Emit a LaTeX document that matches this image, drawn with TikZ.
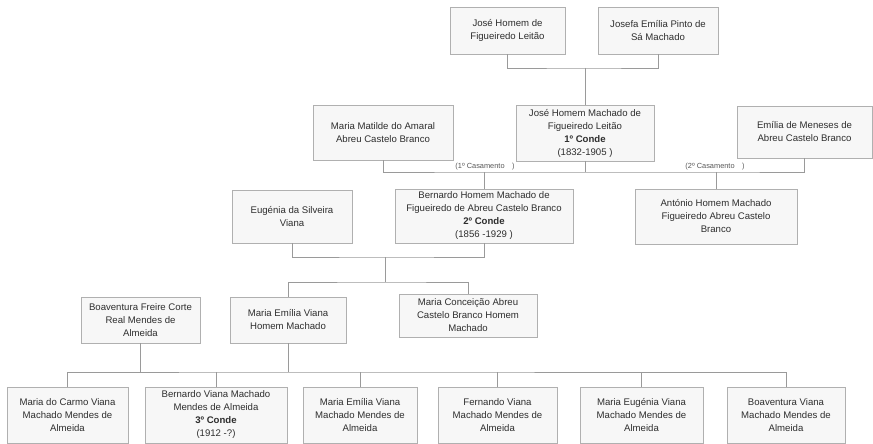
\documentclass[tikz,border=0pt]{standalone}
\usepackage{fontspec}
\setmainfont{Liberation Sans}
\definecolor{txt}{HTML}{2E2E2E}
\definecolor{edge}{HTML}{B0B0B0}
\definecolor{boxfill}{HTML}{F7F7F7}
\definecolor{conn}{HTML}{9A9A9A}
\begin{document}
\begin{tikzpicture}[x=1pt,y=-1pt,
  person/.style={draw=edge,fill=boxfill,line width=0.8pt,inner sep=1pt,align=center,
    text=txt,font=\fontsize{9.6}{13}\selectfont},
  pbox/.style 2 args={person,minimum width=#1pt,minimum height=#2pt},
  link/.style={draw=conn,line width=0.7pt},
  marr/.style={text=txt!80,font=\fontsize{7.4}{8}\selectfont,inner sep=0pt}]
\useasboundingbox[fill=white] (0,0) rectangle (873,444);

% generation 1
\node[pbox={115}{47}] (jose) at (507.5,30.5) {José Homem de\\Figueiredo Leitão};
\node[pbox={120}{47}] (josefa) at (658,30.5) {Josefa Emília Pinto de\\Sá Machado};

% generation 2
\node[pbox={138}{56}] (conde1) at (585,133) {José Homem Machado de\\Figueiredo Leitão\\\textbf{1º Conde}\\(1832-1905 )};
\node[pbox={140}{55}] (matilde) at (383,132.5) {Maria Matilde do Amaral\\Abreu Castelo Branco};
\node[pbox={135}{52}] (emilia) at (804.5,132) {Emília de Meneses de\\Abreu Castelo Branco};

% generation 3
\node[pbox={120}{53}] (eugenia) at (292,216.5) {Eugénia da Silveira\\Viana};
\node[pbox={178}{54}] (bernardo) at (484,216) {Bernardo Homem Machado de\\Figueiredo de Abreu Castelo Branco\\\textbf{2º Conde}\\(1856 -1929 )};
\node[pbox={162}{55}] (antonio) at (716,216.5) {António Homem Machado\\Figueiredo Abreu Castelo\\Branco};

% generation 4
\node[pbox={119}{46}] (boav) at (140.5,320) {Boaventura Freire Corte\\Real Mendes de\\Almeida};
\node[pbox={116}{46}] (memilia) at (288,320) {Maria Emília Viana\\Homem Machado};
\node[pbox={138}{43}] (conceicao) at (468,315.5) {Maria Conceição Abreu\\Castelo Branco Homem\\Machado};

% generation 5
\node[pbox={121}{56}] (c1) at (67.5,415) {Maria do Carmo Viana\\Machado Mendes de\\Almeida};
\node[pbox={142}{56}] (c2) at (216,415) {Bernardo Viana Machado\\Mendes de Almeida\\\textbf{3º Conde}\\(1912 -?)};
\node[pbox={114}{56}] (c3) at (360,415) {Maria Emília Viana\\Machado Mendes de\\Almeida};
\node[pbox={119}{56}] (c4) at (497.5,415) {Fernando Viana\\Machado Mendes de\\Almeida};
\node[pbox={123}{56}] (c5) at (641.5,415) {Maria Eugénia Viana\\Machado Mendes de\\Almeida};
\node[pbox={118}{56}] (c6) at (786,415) {Boaventura Viana\\Machado Mendes de\\Almeida};

% connector junctions
\coordinate (j1) at (585,68);
\coordinate (j2a) at (484,172);
\coordinate (j2b) at (716,172);
\coordinate (j3) at (385,257);
\coordinate (j3b) at (385,282);
\coordinate (j4) at (288,372);

% connectors
\draw[link] (jose.south) |- (j1) -| (josefa.south);
\draw[link] (j1) -- (conde1.north);
\draw[link] (matilde.south) |- (j2a) -- (j2b) -| (emilia.south);
\draw[link] (conde1.south) -- (conde1.south |- j2a);
\draw[link] (j2a) -- (bernardo.north);
\draw[link] (j2b) -- (antonio.north);
\draw[link] (eugenia.south) |- (j3) -| (bernardo.south);
\draw[link] (j3) -- (j3b);
\draw[link] (memilia.north) |- (j3b) -| (conceicao.north);
\draw[link] (boav.south) -- (boav.south |- j4);
\draw[link] (memilia.south) -- (j4);
\draw[link] (c1.north) |- (j4) -| (c6.north);
\draw[link] (c2.north) -- (c2.north |- j4);
\draw[link] (c3.north) -- (c3.north |- j4);
\draw[link] (c4.north) -- (c4.north |- j4);
\draw[link] (c5.north) -- (c5.north |- j4);

% marriage labels
\node[marr,anchor=south] (m1) at (485,170.5) {(1º Casamento\quad)};
\node[marr,anchor=south] (m2) at (715,170.5) {(2º Casamento\quad)};
\end{tikzpicture}
\end{document}
